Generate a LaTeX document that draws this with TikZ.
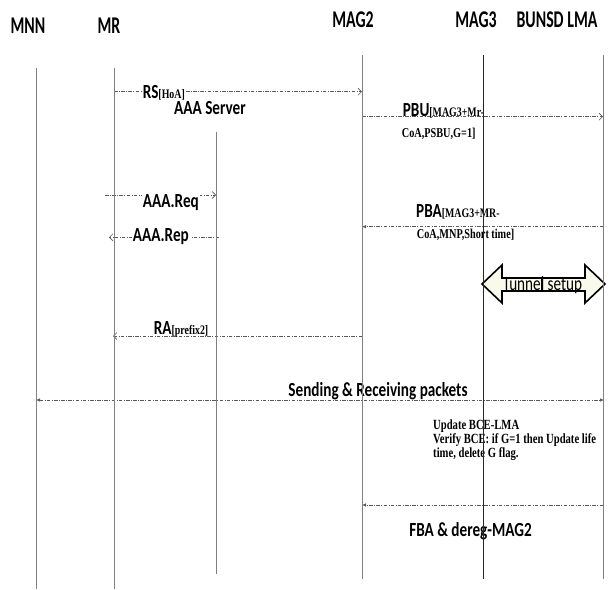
\documentclass[tikz,border=0pt]{standalone}
\usepackage{fontspec}
\setmainfont{Carlito}
\newfontfamily\hdrfont[FakeStretch=0.66]{Carlito}
\newfontfamily\lblfont[FakeStretch=0.76]{Carlito}
\newfontfamily\serfont[FakeStretch=0.76]{Liberation Serif}
\usetikzlibrary{arrows.meta}
\begin{document}
\begin{tikzpicture}[x=1pt,y=-1pt,
  lifeline/.style={draw=black!50, line width=0.8pt},
  lifedark/.style={draw=black!85, line width=0.8pt},
  msg/.style={draw=black!65, line width=0.7pt, dash pattern=on 3.5pt off 1.5pt on 0.7pt off 1.5pt},
  openhead/.style={-{Straight Barb[length=3.5pt,width=7pt,line width=0.6pt]}},
  fillhead/.style={-{Latex[length=4pt,width=3.5pt]}},
  bothfill/.style={{Latex[length=4pt,width=3.5pt]}-{Latex[length=4pt,width=3.5pt]}},
  hdr/.style={font=\hdrfont\bfseries\fontsize{24}{26}\selectfont, inner sep=0pt},
  lbl/.style={font=\lblfont\bfseries\fontsize{20}{22}\selectfont, inner sep=1pt},
  subt/.style={font=\serfont\bfseries\fontsize{13.5}{15}\selectfont, inner sep=0pt},
  note/.style={font=\serfont\bfseries\fontsize{14}{16}\selectfont, inner sep=0pt},
  tunnel/.style={draw=black, line width=1.6pt, line join=miter, fill={rgb,255:red,250;green,250;blue,236}},
]
\useasboundingbox (0,0) rectangle (615,589);
\newcommand{\smsub}[1]{{\serfont\bfseries\fontsize{13}{14}\selectfont #1}}

% headers
\node[hdr] (mnn) at (28,25.5) {MNN};
\node[hdr] (mr) at (109,25.5) {MR};
\node[hdr] (mag2) at (353,19.6) {MAG2};
\node[hdr] (mag3) at (476,19.6) {MAG3};
\node[hdr] (lma) at (557,19.6) {BUNSD LMA};
\node[lbl] (aaa) at (210,108) {AAA Server};

% lifeline ends
\coordinate (mnnT) at (36,68);   \coordinate (mnnB) at (36,589);
\coordinate (mrT) at (114,68);   \coordinate (mrB) at (114,589);
\coordinate (aaaT) at (216,132); \coordinate (aaaB) at (216,574);
\coordinate (mag2T) at (362,55); \coordinate (mag2B) at (362,579);
\coordinate (mag3T) at (483,55); \coordinate (mag3B) at (483,579);
\coordinate (lmaT) at (603,55);  \coordinate (lmaB) at (603,579);

% message ends
\coordinate (rsA) at (114,91.7);  \coordinate (rsB) at (362,91.7);
\coordinate (pbuA) at (362,116.7); \coordinate (pbuB) at (603,116.7);
\coordinate (reqA) at (105,195);  \coordinate (reqB) at (216,195);
\coordinate (repA) at (219,237.3); \coordinate (repB) at (109,237.3);
\coordinate (pbaA) at (603,226.7); \coordinate (pbaB) at (362,226.7);
\coordinate (raA) at (362,336);   \coordinate (raB) at (113,336);
\coordinate (sndA) at (36,400);   \coordinate (sndB) at (604,400);
\coordinate (fbaA) at (603,505);  \coordinate (fbaB) at (362,505);

% messages
\draw[msg, openhead] (rsA) -- (rsB);
\draw[msg, openhead] (pbuA) -- (pbuB);
\draw[msg, openhead] (reqA) -- (reqB);
\draw[msg, openhead] (repA) -- (repB);
\draw[msg, fillhead] (pbaA) -- (pbaB);
\draw[msg, openhead] (raA) -- (raB);
\draw[msg, bothfill] (sndA) -- (sndB);
\draw[msg, fillhead] (fbaA) -- (fbaB);

% labels
\node[lbl, anchor=base west, fill=white] (rsl) at (141.7,98) {RS\smsub{[HoA]}};
\node[lbl, anchor=base west] (pbul) at (401.7,116) {PBU\smsub{[MAG3+Mr-}};
\node[subt, anchor=base west] (pbul2) at (401.7,137) {CoA,PSBU,G=1]};
\node[lbl, anchor=base west, fill=white] (reql) at (141.7,207) {AAA.Req};
\node[lbl, anchor=base west, fill=white] (repl) at (131.7,241) {AAA.Rep};
\node[lbl, anchor=base west] (pbal) at (415,217) {PBA\smsub{[MAG3+MR-}};
\node[subt, anchor=base west] (pbal2) at (416.7,238) {CoA,MNP,Short time]};
\node[lbl, anchor=base west] (ral) at (152.7,334) {RA\smsub{[prefix2]}};
\node[lbl, anchor=base, fill=white] (sndl) at (378,396) {Sending \& Receiving packets};
\node[note, anchor=base west] (upd1) at (433,429.5) {Update BCE-LMA};
\node[note, anchor=base west] (upd2) at (433,443.5) {Verify BCE: if G=1 then Update life};
\node[note, anchor=base west] (upd3) at (433,457.5) {time, delete G flag.};
\node[lbl, anchor=base] (fbal) at (470.5,536) {FBA \& dereg-MAG2};

% tunnel setup double arrow
\draw[tunnel] (482,284) -- (502,265) -- (502,278) -- (585,278) -- (585,265)
  -- (605,284) -- (585,303) -- (585,291) -- (502,291) -- (502,303) -- cycle;
\node[font=\lblfont\fontsize{20}{22}\selectfont, inner sep=0pt] (tun) at (542.5,285.5) {Tunnel setup};
\coordinate (barT) at (541.6,278); \coordinate (barB) at (541.6,292);
\draw[line width=0.8pt] (barT) -- (barB);

% lifelines
\draw[lifeline] (mnnT) -- (mnnB);
\draw[lifeline] (mrT) -- (mrB);
\draw[lifeline] (aaaT) -- (aaaB);
\draw[lifeline] (mag2T) -- (mag2B);
\draw[lifedark] (mag3T) -- (mag3B);
\draw[lifeline] (lmaT) -- (lmaB);
\end{tikzpicture}
\end{document}
